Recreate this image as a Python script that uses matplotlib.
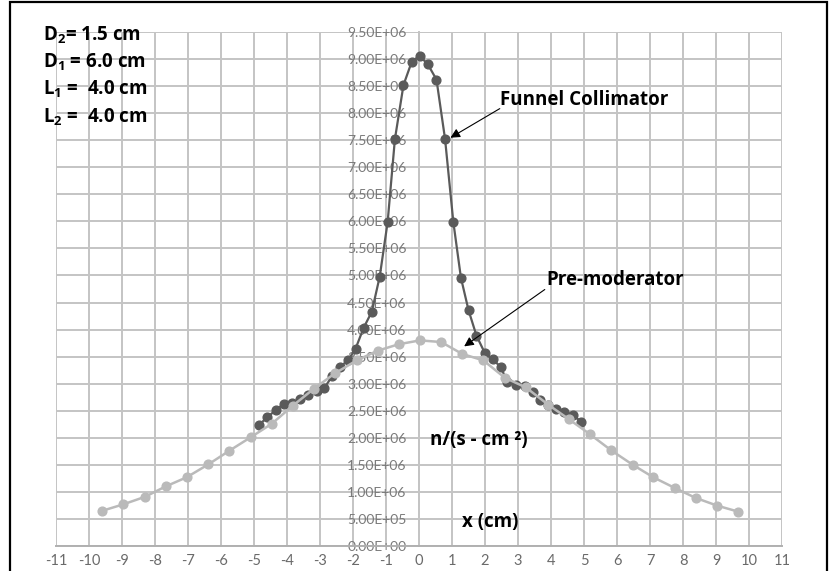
import matplotlib
matplotlib.use('Agg')
import matplotlib.pyplot as plt
from matplotlib.patches import Rectangle
from matplotlib.ticker import FuncFormatter


# Funnel collimator profile (dark)
funnel_x = [-4.84, -4.6, -4.34, -4.09, -3.84, -3.6, -3.35, -3.1, -2.87, -2.63,
            -2.39, -2.14, -1.92, -1.68, -1.43, -1.19, -0.95, -0.73, -0.47, -0.22,
            0.02, 0.27, 0.53, 0.79, 1.04, 1.27, 1.5, 1.74, 2.0, 2.24, 2.47,
            2.68, 2.95, 3.22, 3.45, 3.68, 3.92, 4.16, 4.4, 4.66, 4.9]
funnel_y = [2.24, 2.38, 2.51, 2.63, 2.65, 2.71, 2.80, 2.86, 2.92, 3.14,
            3.31, 3.44, 3.65, 4.03, 4.33, 4.98, 5.99, 7.52, 8.52, 8.95,
            9.06, 8.90, 8.62, 7.52, 5.99, 4.96, 4.36, 3.89, 3.56, 3.45, 3.31,
            3.04, 2.98, 2.95, 2.85, 2.70, 2.61, 2.54, 2.48, 2.43, 2.30]

# Pre-moderator profile (light)
premod_x = [-9.62, -8.96, -8.3, -7.68, -7.04, -6.38, -5.75, -5.1, -4.46, -3.83,
            -3.18, -2.55, -1.89, -1.25, -0.61, 0.03, 0.67, 1.31, 1.95, 2.6,
            3.24, 3.92, 4.55, 5.17, 5.82, 6.48, 7.1, 7.76, 8.38, 9.04, 9.68]
premod_y = [0.647, 0.77, 0.91, 1.10, 1.27, 1.51, 1.76, 2.01, 2.26, 2.59,
            2.91, 3.19, 3.43, 3.61, 3.73, 3.80, 3.77, 3.55, 3.43, 3.11,
            2.93, 2.61, 2.34, 2.07, 1.77, 1.50, 1.27, 1.07, 0.89, 0.745, 0.634]

params = [r'D$_{2}$= 1.5 cm', r'D$_{1}$ = 6.0 cm', r'L$_{1}$ =  4.0 cm', r'L$_{2}$ =  4.0 cm']

plt.rcParams['font.family'] = ['Lato', 'DejaVu Sans']
plt.rcParams['axes.unicode_minus'] = False
plt.rcParams['mathtext.fontset'] = 'custom'
plt.rcParams['mathtext.rm'] = 'Open Sans:bold'
plt.rcParams['mathtext.it'] = 'Open Sans:bold'
plt.rcParams['mathtext.bf'] = 'Open Sans:bold'

fig = plt.figure(figsize=(8.3, 5.71), dpi=100)
ax = fig.add_axes([56/830, 1-546/571, (782-56)/830, (546-32)/571])

grid_col = '#c4c4c4'
ax.plot(funnel_x, [v*1e6 for v in funnel_y], '-o', color='#5a5a5a', lw=1.6,
        markersize=6.3, zorder=3)
ax.plot(premod_x, [v*1e6 for v in premod_y], '-o', color='#bababa', lw=1.8,
        markersize=6.3, zorder=4)

ax.set_xlim(-11, 11)
ax.set_ylim(0, 9.5e6)
ax.set_xticks(range(-11, 12))
ax.set_yticks([i*0.5e6 for i in range(20)])
ax.yaxis.set_major_formatter(FuncFormatter(lambda v, p: '%.2E' % v))
ax.grid(True, color=grid_col, lw=1.4, zorder=0)
ax.set_axisbelow(True)

for s in ['top', 'right']:
    ax.spines[s].set_visible(False)
ax.spines['left'].set_position(('data', 0))
ax.spines['left'].set_color(grid_col)
ax.spines['left'].set_linewidth(1.4)
ax.spines['bottom'].set_color('#b0b0b0')
ax.spines['bottom'].set_linewidth(1.4)

ax.tick_params(axis='y', length=0, pad=9, labelsize=10, labelcolor='#7a7a7a')
ax.tick_params(axis='x', length=0, pad=5.5, labelsize=10.5, labelcolor='#6a6a6a')

bold = dict(fontsize=13.5, fontweight='bold', color='black', family='Open Sans')
ax.text(2.45, 8.24e6, 'Funnel Collimator', va='center', ha='left', **bold)
ax.annotate('', xy=(0.88, 7.52e6), xytext=(2.52, 8.11e6),
            arrowprops=dict(arrowstyle='-|>', color='black', lw=0.8, mutation_scale=14))
ax.text(3.85, 4.92e6, 'Pre-moderator', va='center', ha='left', **bold)
ax.annotate('', xy=(1.3, 3.66e6), xytext=(3.88, 4.77e6),
            arrowprops=dict(arrowstyle='-|>', color='black', lw=0.8, mutation_scale=14))
ax.text(0.33, 1.96e6, 'n/(s - cm ²)', va='center', ha='left', **bold)
ax.text(1.3, 0.44e6, 'x (cm)', va='center', ha='left', **bold)

for i, t in enumerate(params):
    fig.text(43/830, 1-(35+27.3*i)/571, t, va='center', ha='left', **bold)

# border around the whole chart
fig.patches.append(Rectangle((10/830, -0.01), 817/830, 1-2/571+0.01,
                             transform=fig.transFigure, fill=False,
                             edgecolor='black', lw=1.6))

plt.savefig('out.png', dpi=100)
